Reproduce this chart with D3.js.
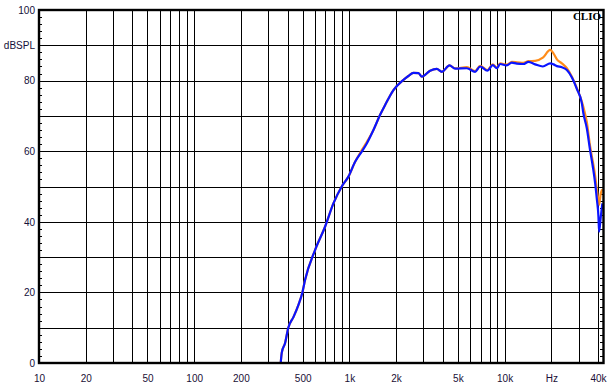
<!DOCTYPE html>
<html><head><meta charset="utf-8">
<script src="https://cdn.jsdelivr.net/npm/d3@7/dist/d3.min.js"></script>
<style>html,body{margin:0;padding:0;background:#fff;}svg{display:block;}</style>
</head><body>
<script>
// Frequencies (Hz)
const freqs = [361,367,385,404,436,469,498,518,601,697,789,893,986,1089,1202,1295,1429,1578,1700,1923,2230,2400,2587,2788,2932,3313,3660,3944,4416,4800,5716,6460,6958,7755,8395,8910,9360,10330,11130,12000,13210,14250,15740,17650,19680,20650,21740,23400,25200,27160,29260,31500,32200,33880,35560,37050,38350,39370,40270,40650,41690,42670];
// Blue series (dB SPL)
const blueSPL = [0,3.0,5.6,10,13,16.4,20,23.5,32,38.6,45.2,50,52.8,57,59.9,62.2,66,70.3,73.1,77.3,80.2,81.3,82.2,82.1,81.1,82.8,83.3,82.5,84.3,83.4,83.5,82.5,84.0,82.8,84.4,83.5,84.7,84.3,85.1,84.8,84.7,85.3,84.6,84.0,84.9,84.6,84.1,83.8,83.0,80.9,77.6,73.5,70.7,66.5,60.3,55.6,50.9,46.2,41.4,37.2,41.4,45.2];
// Orange series (dB SPL)
const orangeSPL = [0,3.0,5.6,10,13,16.4,20,23.5,32,38.6,45.2,50,52.8,57,60.3,62.6,66,70.3,73.1,77.3,80.2,81.3,82.2,82.1,81.1,82.8,83.3,82.5,84.3,83.5,83.8,82.7,84.2,83.0,84.6,83.7,84.9,84.5,85.3,85.2,85.0,85.5,85.6,86.5,88.7,87.7,86.0,84.9,83.5,81.1,77.8,74.0,72.5,68.3,61.5,57.0,53.0,49.0,46.0,44.8,48.0,49.2];
// Tick labels
const xTickValues = [10,20,50,100,200,500,1000,2000,5000,10000,20000,40000];
const xTickLabels = ["10","20","50","100","200","500","1k","2k","5k","10k","Hz","40k"];
const xGridValues = [20,30,40,50,60,70,80,90,100,200,300,400,500,600,700,800,900,1000,2000,3000,4000,5000,6000,7000,8000,9000,10000,20000,30000,40000];
const yTickValues = [0,20,40,60,80,90,100];
const yTickLabels = ["0","20","40","60","80","dBSPL","100"];
const yGridValues = [10,20,30,40,50,60,70,80,90];

const W = 614, H = 390;
const L = 39, T = 10, R = 603.5, B = 363;

const svg = d3.select("body").append("svg").attr("width", W).attr("height", H);
svg.append("rect").attr("width", W).attr("height", H).attr("fill", "#fff");

const x = d3.scaleLog().domain([10, 40000]).range([L, 598]);
const y = d3.scaleLinear().domain([0, 100]).range([B, T]);

// grid
const grid = svg.append("g").attr("stroke", "#000").attr("stroke-width", 1).attr("shape-rendering", "crispEdges");
grid.selectAll("line.v").data(xGridValues).join("line")
  .attr("x1", d => Math.round(x(d)) + 0.5).attr("x2", d => Math.round(x(d)) + 0.5)
  .attr("y1", T).attr("y2", B);
grid.selectAll("line.h").data(yGridValues).join("line")
  .attr("x1", L).attr("x2", R)
  .attr("y1", d => Math.round(y(d)) + 0.5).attr("y2", d => Math.round(y(d)) + 0.5);

// minor ticks left & right
const minor = d3.range(2, 100, 2);
const leftTicks = d3.axisRight(y).tickValues(minor).tickSize(3).tickFormat("");
svg.append("g").attr("transform", `translate(${L},0)`).call(leftTicks)
  .call(g => g.select(".domain").remove())
  .call(g => g.selectAll("line").attr("stroke", "#000").attr("shape-rendering", "crispEdges"));
const rightTicks = d3.axisLeft(y).tickValues(minor).tickSize(4).tickFormat("");
svg.append("g").attr("transform", `translate(${R},0)`).call(rightTicks)
  .call(g => g.select(".domain").remove())
  .call(g => g.selectAll("line").attr("stroke", "#000").attr("shape-rendering", "crispEdges"));

// curves
svg.append("clipPath").attr("id", "clip").append("rect")
  .attr("x", L).attr("y", T).attr("width", R - L).attr("height", B - T);
const line = (vals) => d3.line()
  .x((d, i) => x(freqs[i])).y(d => y(d))
  .curve(d3.curveMonotoneX)(vals);
const curves = svg.append("g").attr("clip-path", "url(#clip)");
curves.append("path").attr("d", line(orangeSPL)).attr("fill", "none")
  .attr("stroke", "#ff8c1a").attr("stroke-width", 2.2).attr("stroke-linejoin", "round");
curves.append("path").attr("d", line(blueSPL)).attr("fill", "none")
  .attr("stroke", "#0a14ff").attr("stroke-width", 2.2).attr("stroke-linejoin", "round");

// frame
svg.append("rect").attr("x", L).attr("y", T).attr("width", R - L).attr("height", B - T)
  .attr("fill", "none").attr("stroke", "#000").attr("stroke-width", 2.4);

// axis labels
const font = "'Liberation Sans', Arial, sans-serif";
const yAxis = d3.axisLeft(y).tickValues(yTickValues).tickSize(0).tickPadding(4)
  .tickFormat((d, i) => yTickLabels[yTickValues.indexOf(d)]);
svg.append("g").attr("transform", `translate(${L},0)`).call(yAxis)
  .call(g => g.select(".domain").remove())
  .call(g => g.selectAll("text").attr("font-family", font).attr("font-size", 10).attr("fill", "#14103a"));

const xAxis = d3.axisBottom(x).tickValues(xTickValues).tickSize(0).tickPadding(12)
  .tickFormat(d => xTickLabels[xTickValues.indexOf(d)]);
svg.append("g").attr("transform", `translate(0,${B})`).call(xAxis)
  .call(g => g.select(".domain").remove())
  .call(g => g.selectAll("text").attr("font-family", font).attr("font-size", 10).attr("fill", "#1a1036"));

svg.append("text").attr("x", 601).attr("y", 20).attr("text-anchor", "end")
  .attr("font-family", "'Liberation Serif', 'Times New Roman', serif").attr("font-weight", "bold")
  .attr("font-size", 11).attr("fill", "#000").text("CLIO");
</script>
</body></html>
